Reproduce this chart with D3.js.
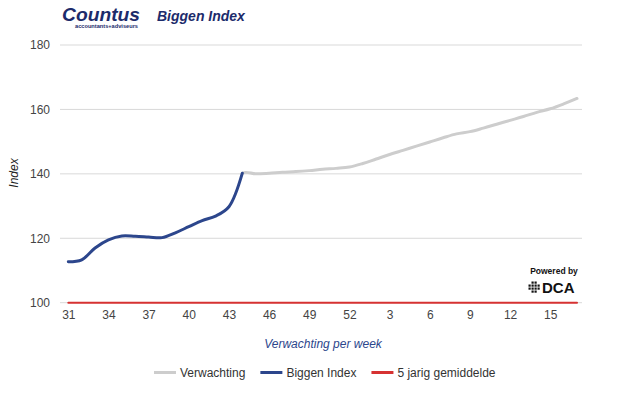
<!DOCTYPE html>
<html lang="nl">
<head>
  <meta charset="UTF-8">
  <title>Biggen Index</title>
  <script src="https://d3js.org/d3.v7.min.js"></script>
  <style>
    body { margin: 0; background: #fff; }
    svg { font-family: "Liberation Sans", Arial, sans-serif; }
  </style>
</head>
<body>
  <div id="chart"></div>
  <script>
    // weeks (categories)
    var weeks = [31, 32, 33, 34, 35, 36, 37, 38, 39, 40, 41, 42, 43, 44, 45, 46, 47, 48, 49, 50, 51, 52,
                 1, 2, 3, 4, 5, 6, 7, 8, 9, 10, 11, 12, 13, 14, 15, 16, 17];

    // series
    var biggenIndex = [112.7, 113.3, 117.0, 119.5, 120.7, 120.6, 120.4, 120.2, 121.7, 123.6, 125.5, 126.9, 129.8, 140.2,
                       null, null, null, null, null, null, null, null, null, null, null, null, null,
                       null, null, null, null, null, null, null, null, null, null, null, null];
    var verwachting = [null, null, null, null, null, null, null, null, null, null, null, null,
                       129.8, 140.2, 140.0, 140.2, 140.5, 140.7, 141.0, 141.4, 141.7, 142.1,
                       143.2, 144.6, 146.0, 147.3, 148.6, 149.9, 151.2, 152.4, 153.1, 154.2,
                       155.4, 156.6, 157.8, 159.1, 160.2, 161.7, 163.4];
    var gemiddelde = [100, 100, 100, 100, 100, 100, 100, 100, 100, 100, 100, 100, 100, 100, 100, 100, 100, 100, 100, 100,
                      100, 100, 100, 100, 100, 100, 100, 100, 100, 100, 100, 100, 100, 100, 100, 100, 100, 100, 100];

    var yTicks = [100, 120, 140, 160, 180];
    var xTickWeeks = [31, 34, 37, 40, 43, 46, 49, 52, 3, 6, 9, 12, 15];

    var series = [
      {name: "Verwachting", values: verwachting, color: "#cdcdcd", width: 3, from: 13},
      {name: "Biggen Index", values: biggenIndex, color: "#2c468c", width: 3, from: 0},
      {name: "5 jarig gemiddelde", values: gemiddelde, color: "#d63232", width: 2, from: 0}
    ];

    var W = 625, H = 394;
    var svg = d3.select("#chart").append("svg")
      .attr("width", W).attr("height", H);

    // header
    svg.append("text")
      .attr("x", 62).attr("y", 21)
      .attr("textLength", 78).attr("lengthAdjust", "spacingAndGlyphs")
      .style("font-size", "18px").style("font-weight", "900").style("font-style", "italic")
      .style("fill", "#1c2b6b")
      .text("Countus");
    svg.append("text")
      .attr("x", 75).attr("y", 28)
      .attr("textLength", 63).attr("lengthAdjust", "spacingAndGlyphs")
      .style("font-size", "4.5px").style("font-weight", "bold")
      .style("fill", "#1c2b6b")
      .text("accountants+adviseurs");
    svg.append("text")
      .attr("x", 157).attr("y", 21)
      .style("font-size", "14px").style("font-weight", "bold").style("font-style", "italic")
      .style("fill", "#1c2b6b")
      .text("Biggen Index");

    // scales
    var x = d3.scalePoint()
      .domain(d3.range(weeks.length))
      .range([68.3, 577]);
    var y = d3.scaleLinear()
      .domain([100, 180])
      .range([302.7, 45]);

    // gridlines
    svg.append("g").selectAll("line")
      .data(yTicks)
      .enter().append("line")
        .attr("x1", 60).attr("x2", 582)
        .attr("y1", function(d) { return y(d); })
        .attr("y2", function(d) { return y(d); })
        .style("stroke", "#d9d9d9").style("stroke-width", 1);

    // y axis labels
    var yAxis = svg.append("g")
      .attr("transform", "translate(60,0)")
      .call(d3.axisLeft(y).tickValues(yTicks).tickSize(0).tickPadding(10));
    yAxis.select(".domain").remove();
    yAxis.selectAll("text").style("font-size", "12px").style("fill", "#444").attr("font-family", null);

    // x axis labels
    var xIdx = xTickWeeks.map(function(w, i) { return i < 8 ? weeks.indexOf(w) : weeks.lastIndexOf(w); });
    var xAxis = svg.append("g")
      .attr("transform", "translate(0,304)")
      .call(d3.axisBottom(x).tickValues(xIdx).tickSize(0).tickPadding(6)
        .tickFormat(function(i) { return weeks[i]; }));
    xAxis.select(".domain").remove();
    xAxis.selectAll("text").style("font-size", "12px").style("fill", "#444").attr("font-family", null);

    // axis titles
    svg.append("text")
      .attr("x", 323).attr("y", 348)
      .attr("text-anchor", "middle")
      .style("font-size", "12px").style("font-style", "italic").style("fill", "#2c468c")
      .text("Verwachting per week");
    svg.append("text")
      .attr("transform", "translate(18,173) rotate(-90)")
      .attr("text-anchor", "middle")
      .style("font-size", "12px").style("font-style", "italic").style("fill", "#222")
      .text("Index");

    // clip each series so the forecast starts where the index ends
    var defs = svg.append("defs");
    series.forEach(function(s, k) {
      defs.append("clipPath").attr("id", "clip" + k)
        .append("rect")
          .attr("x", x(s.from) - (s.from ? 0 : 10)).attr("y", 0)
          .attr("width", W).attr("height", H);
    });

    // lines
    var line = d3.line()
      .defined(function(d) { return d !== null; })
      .x(function(d, i) { return x(i); })
      .y(function(d) { return y(d); })
      .curve(d3.curveCatmullRom.alpha(0.5));

    svg.append("g").selectAll("path")
      .data(series)
      .enter().append("path")
        .attr("clip-path", function(s, k) { return "url(#clip" + k + ")"; })
        .attr("d", function(s) { return line(s.values); })
        .style("fill", "none")
        .style("stroke", function(s) { return s.color; })
        .style("stroke-width", function(s) { return s.width; })
        .style("stroke-linecap", "round");

    // legend
    var legend = svg.append("g");
    var lx = 154;
    series.forEach(function(s) {
      legend.append("line")
        .attr("x1", lx).attr("x2", lx + 22)
        .attr("y1", 372.5).attr("y2", 372.5)
        .style("stroke", s.color).style("stroke-width", 3);
      var t = legend.append("text")
        .attr("x", lx + 26).attr("y", 377)
        .style("font-size", "12px").style("fill", "#333")
        .text(s.name);
      lx += 26 + t.node().getComputedTextLength() + 15;
    });

    // powered by DCA
    svg.append("text")
      .attr("x", 554).attr("y", 274)
      .attr("text-anchor", "middle")
      .style("font-size", "8.5px").style("font-weight", "bold").style("fill", "#111")
      .text("Powered by");
    var dots = svg.append("g");
    d3.range(16).forEach(function(k) {
      var r = Math.floor(k / 4), c = k % 4;
      if ((r === 0 || r === 3) && (c === 0 || c === 3)) return;
      dots.append("rect")
        .attr("x", 528.5 + c * 3).attr("y", 281.5 + r * 3)
        .attr("width", 2.2).attr("height", 2.2)
        .style("fill", "#111");
    });
    svg.append("text")
      .attr("x", 542).attr("y", 293)
      .style("font-size", "15px").style("font-weight", "bold").style("fill", "#111")
      .text("DCA");
  </script>
</body>
</html>
